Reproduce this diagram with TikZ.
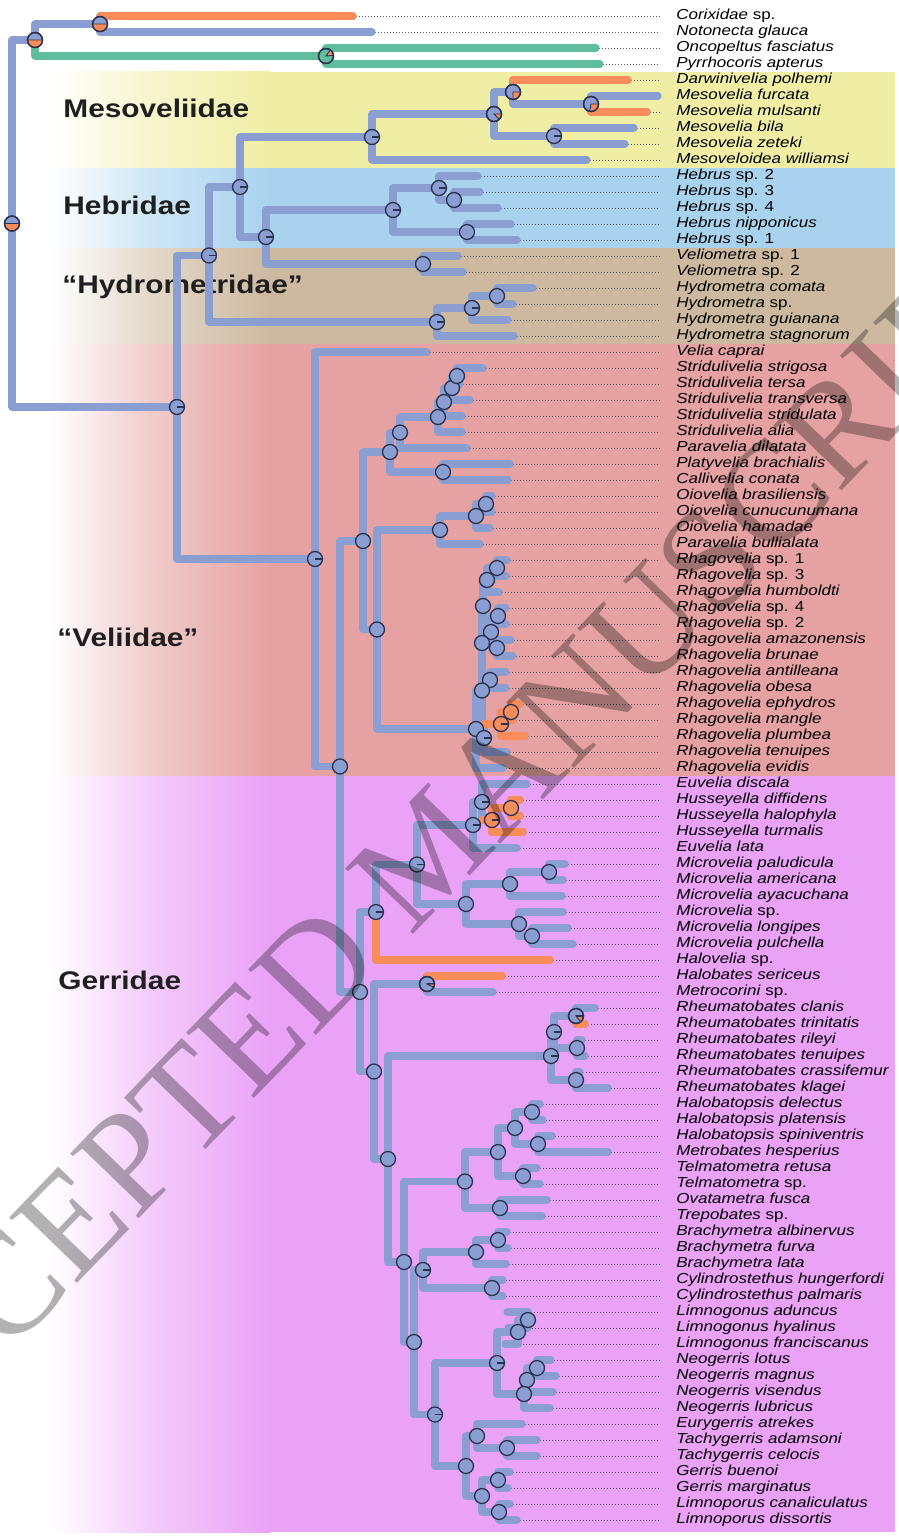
\documentclass[tikz,border=0pt]{standalone}
\usepackage{fontspec}
\newfontfamily\labfont{Liberation Sans}[FakeStretch=1.17]
\newfontfamily\wmfont{Liberation Serif}
\definecolor{bl}{HTML}{8B9ED2}
\definecolor{orn}{HTML}{FA8C5A}
\definecolor{grn}{HTML}{5FBE9B}
\definecolor{outl}{HTML}{2A3350}
\definecolor{dotc}{HTML}{555566}
\definecolor{cYel}{HTML}{F0EEA5}
\definecolor{cBlu}{HTML}{A8D2EE}
\definecolor{cTan}{HTML}{CDB9A0}
\definecolor{cPnk}{HTML}{E6A2A2}
\definecolor{cMag}{HTML}{EAA2F7}
\newcommand\plainpie[2][bl]{\node[pn,fill=#1] (c#2) at (#2) {};}
\newcommand\tickpie[2][bl]{\node[pn,fill=#1] (c#2) at (#2) {};\draw[tk] (#2) -- ++(3.75pt,0);}
\newcommand\wedgepie[4]{\filldraw[fill=#4,draw=outl,line width=0.45pt] (#1) -- ++(#2:3.75pt) arc[start angle=#2,end angle=#3,radius=3.75pt] -- cycle; \draw[pnl] (#1) circle[radius=3.75pt];}
\begin{document}
\begin{tikzpicture}[x=0.5pt,y=-0.5pt,
  br/.style={draw=bl,line width=3.6pt,line cap=round,line join=round},
  brO/.style={br,draw=orn},
  brG/.style={br,draw=grn},
  dots/.style={draw=dotc,line width=0.45pt,dash pattern=on 0.45pt off 1.05pt},
  lab/.style={anchor=west,inner sep=0pt,text height=5.4pt,text depth=1.5pt,font=\labfont\fontsize{7.25}{8}\selectfont},
  grp/.style={anchor=west,inner sep=0pt,font=\labfont\bfseries\fontsize{12.75}{14}\selectfont,text=black!88},
  pn/.style={circle,draw=outl,fill=bl,line width=0.65pt,minimum size=7.5pt,inner sep=0pt},
  pnl/.style={draw=outl,line width=0.65pt},
  tk/.style={draw=outl,line width=0.65pt},
  wm/.style={font=\wmfont\fontsize{72}{80}\selectfont,text=black,text opacity=0.3,inner sep=0pt}]
\useasboundingbox (0,0) rectangle (899,1536);
\fill[white] (0,0) rectangle (899,1536);
% bands
\foreach \ya/\yb/\cc in {72/168/cYel,168/248/cBlu,248/344/cTan,344/776/cPnk,776/1532/cMag}{
  \shade[left color=white,right color=\cc!55!white] (50,\ya) rectangle (150,\yb);
  \shade[left color=\cc!55!white,right color=\cc] (149.5,\ya) rectangle (270,\yb);
  \fill[\cc] (269.5,\ya) rectangle (895,\yb);
}
% group labels
\node[grp] (gMes) at (63,108) {Mesoveliidae};
\node[grp] (gHeb) at (63,205) {Hebridae};
\node[grp] (gHyd) at (62,287) {“Hydrometridae”};
\node[grp] (gVel) at (57,637) {“Veliidae”};
\node[grp] (gGer) at (58,980) {Gerridae};
% leaves
\foreach \i/\ex/\lab [evaluate=\i as \yy using 16*\i] in {
1/353/{\textit{Corixidae} sp.},
2/372/{\textit{Notonecta glauca}},
3/596/{\textit{Oncopeltus fasciatus}},
4/600/{\textit{Pyrrhocoris apterus}},
5/628/{\textit{Darwinivelia polhemi}},
6/658/{\textit{Mesovelia furcata}},
7/647/{\textit{Mesovelia mulsanti}},
8/634/{\textit{Mesovelia bila}},
9/625/{\textit{Mesovelia zeteki}},
10/587/{\textit{Mesoveloidea williamsi}},
11/478/{\textit{Hebrus} sp. 2},
12/480/{\textit{Hebrus} sp. 3},
13/498/{\textit{Hebrus} sp. 4},
14/511/{\textit{Hebrus nipponicus}},
15/517/{\textit{Hebrus} sp. 1},
16/458/{\textit{Veliometra} sp. 1},
17/463/{\textit{Veliometra} sp. 2},
18/533/{\textit{Hydrometra comata}},
19/513/{\textit{Hydrometra} sp.},
20/508/{\textit{Hydrometra guianana}},
21/514/{\textit{Hydrometra stagnorum}},
22/427/{\textit{Velia caprai}},
23/483/{\textit{Stridulivelia strigosa}},
24/460/{\textit{Stridulivelia tersa}},
25/470/{\textit{Stridulivelia transversa}},
26/462/{\textit{Stridulivelia stridulata}},
27/462/{\textit{Stridulivelia alia}},
28/467/{\textit{Paravelia dilatata}},
29/510/{\textit{Platyvelia brachialis}},
30/508/{\textit{Callivelia conata}},
31/492/{\textit{Oiovelia brasiliensis}},
32/492/{\textit{Oiovelia cunucunumana}},
33/490/{\textit{Oiovelia hamadae}},
34/480/{\textit{Paravelia bullialata}},
35/507/{\textit{Rhagovelia} sp. 1},
36/506/{\textit{Rhagovelia} sp. 3},
37/499/{\textit{Rhagovelia humboldti}},
38/506/{\textit{Rhagovelia} sp. 4},
39/506/{\textit{Rhagovelia} sp. 2},
40/511/{\textit{Rhagovelia amazonensis}},
41/513/{\textit{Rhagovelia brunae}},
42/506/{\textit{Rhagovelia antilleana}},
43/506/{\textit{Rhagovelia obesa}},
44/520/{\textit{Rhagovelia ephydros}},
45/513/{\textit{Rhagovelia mangle}},
46/525/{\textit{Rhagovelia plumbea}},
47/507/{\textit{Rhagovelia tenuipes}},
48/503/{\textit{Rhagovelia evidis}},
49/527/{\textit{Euvelia discala}},
50/520/{\textit{Husseyella diffidens}},
51/520/{\textit{Husseyella halophyla}},
52/523/{\textit{Husseyella turmalis}},
53/517/{\textit{Euvelia lata}},
54/565/{\textit{Microvelia paludicula}},
55/563/{\textit{Microvelia americana}},
56/562/{\textit{Microvelia ayacuchana}},
57/563/{\textit{Microvelia} sp.},
58/568/{\textit{Microvelia longipes}},
59/573/{\textit{Microvelia pulchella}},
60/550/{\textit{Halovelia} sp.},
61/502/{\textit{Halobates sericeus}},
62/493/{\textit{Metrocorini} sp.},
63/595/{\textit{Rheumatobates clanis}},
64/585/{\textit{Rheumatobates trinitatis}},
65/582/{\textit{Rheumatobates rileyi}},
66/585/{\textit{Rheumatobates tenuipes}},
67/580/{\textit{Rheumatobates crassifemur}},
68/608/{\textit{Rheumatobates klagei}},
69/540/{\textit{Halobatopsis delectus}},
70/543/{\textit{Halobatopsis platensis}},
71/552/{\textit{Halobatopsis spiniventris}},
72/608/{\textit{Metrobates hesperius}},
73/537/{\textit{Telmatometra retusa}},
74/540/{\textit{Telmatometra} sp.},
75/547/{\textit{Ovatametra fusca}},
76/542/{\textit{Trepobates} sp.},
77/507/{\textit{Brachymetra albinervus}},
78/508/{\textit{Brachymetra furva}},
79/506/{\textit{Brachymetra lata}},
80/503/{\textit{Cylindrostethus hungerfordi}},
81/503/{\textit{Cylindrostethus palmaris}},
82/507/{\textit{Limnogonus aduncus}},
83/508/{\textit{Limnogonus hyalinus}},
84/505/{\textit{Limnogonus franciscanus}},
85/551/{\textit{Neogerris lotus}},
86/556/{\textit{Neogerris magnus}},
87/553/{\textit{Neogerris visendus}},
88/550/{\textit{Neogerris lubricus}},
89/522/{\textit{Eurygerris atrekes}},
90/537/{\textit{Tachygerris adamsoni}},
91/537/{\textit{Tachygerris celocis}},
92/510/{\textit{Gerris buenoi}},
93/508/{\textit{Gerris marginatus}},
94/510/{\textit{Limnoporus canaliculatus}},
95/517/{\textit{Limnoporus dissortis}}}{
  \coordinate (t\i) at (\ex,\yy);
  \coordinate (d\i) at (660,\yy);
  \draw[dots] (t\i) -- (d\i);
  \node[lab] (L\i) at (676,\yy) {\lab};
}
% internal nodes
\coordinate (R0) at (12,223.5);
\coordinate (O) at (35,40);
\coordinate (O1) at (100,24);
\coordinate (O2) at (326,56);
\coordinate (I) at (177,407);
\coordinate (H) at (209,255.5);
\coordinate (M) at (240,187);
\coordinate (Me) at (372,137);
\coordinate (Me2) at (494,114);
\coordinate (Me3) at (513,92);
\coordinate (Me5) at (591,104);
\coordinate (Me4) at (554,136);
\coordinate (HV) at (266,237);
\coordinate (Hb) at (393,210);
\coordinate (Hb1) at (439,188);
\coordinate (Hb3) at (454,200);
\coordinate (Hb2) at (467,232);
\coordinate (Vm) at (423,264);
\coordinate (Hy) at (437,322);
\coordinate (Hy1) at (472,308);
\coordinate (Hy2) at (497,296);
\coordinate (V) at (315,559);
\coordinate (V2) at (340,766.5);
\coordinate (V3) at (363,541);
\coordinate (V4) at (390,452);
\coordinate (V4a) at (400,432.5);
\coordinate (S4) at (438,417);
\coordinate (S3) at (444,402);
\coordinate (S2) at (452,388);
\coordinate (S1) at (457,376);
\coordinate (V4b) at (443,472);
\coordinate (V5) at (377,629.5);
\coordinate (V6) at (440,530);
\coordinate (V6a) at (476,516);
\coordinate (V6b) at (486,504);
\coordinate (rA) at (497,568);
\coordinate (rB) at (487,580);
\coordinate (rC) at (498,616);
\coordinate (rE) at (497,648);
\coordinate (rD) at (491,632);
\coordinate (rG) at (483,606);
\coordinate (rH) at (490,680);
\coordinate (rF) at (482,643);
\coordinate (rJ) at (511,712);
\coordinate (rK) at (501,724);
\coordinate (rM) at (484,738);
\coordinate (rI) at (482,690.5);
\coordinate (rL) at (476,729);
\coordinate (G0) at (360,992);
\coordinate (G1) at (376,912);
\coordinate (G2) at (417,864.5);
\coordinate (Eu) at (473,825);
\coordinate (eX) at (482,802);
\coordinate (eY) at (492,820);
\coordinate (eZ) at (511,808);
\coordinate (Mi) at (466,904);
\coordinate (Mi1) at (510,884);
\coordinate (Mi1a) at (549,872);
\coordinate (Mi2) at (519,924);
\coordinate (Mi2a) at (532,936);
\coordinate (N1) at (374,1071.5);
\coordinate (Hm) at (427,984);
\coordinate (N2) at (388,1159);
\coordinate (Rb) at (551,1056);
\coordinate (Rb1) at (554,1032);
\coordinate (Rb2) at (576,1016);
\coordinate (Rb3) at (577,1048);
\coordinate (Rb4) at (576,1080);
\coordinate (N3) at (404,1262);
\coordinate (T) at (465,1181.5);
\coordinate (T1) at (498,1152);
\coordinate (T1a) at (515,1128);
\coordinate (T1b) at (532,1112);
\coordinate (T1c) at (538,1144);
\coordinate (T1d) at (523,1176);
\coordinate (T2) at (500,1208);
\coordinate (N4) at (414,1342);
\coordinate (B) at (423,1270);
\coordinate (Br) at (476,1252);
\coordinate (Br1) at (498,1240);
\coordinate (Cy) at (492,1288);
\coordinate (L) at (435,1414.5);
\coordinate (LN) at (497,1363);
\coordinate (Lg) at (518,1332);
\coordinate (Lg1) at (528,1320);
\coordinate (Ng1) at (537,1368);
\coordinate (Ng2) at (527,1380);
\coordinate (Ng3) at (524,1394);
\coordinate (Lw) at (466,1466);
\coordinate (Et) at (477,1436);
\coordinate (Ta) at (507,1448);
\coordinate (GL) at (482,1496);
\coordinate (Ge) at (498,1480);
\coordinate (Lp) at (499,1512);
% blue branches
\foreach \p/\c in {R0/O,R0/I,O/O1,O1/t1,O1/t2,I/H,I/V,H/M,H/Hy,M/Me,M/HV,Me/Me2,Me/t10,
  Me2/Me3,Me2/Me4,Me3/t5,Me3/Me5,Me5/t6,Me5/t7,Me4/t8,Me4/t9,HV/Hb,HV/Vm,Hb/Hb1,Hb/Hb2,
  Hb1/t11,Hb1/Hb3,Hb3/t12,Hb3/t13,Hb2/t14,Hb2/t15,Vm/t16,Vm/t17,Hy/Hy1,Hy/t21,Hy1/Hy2,Hy1/t20,
  Hy2/t18,Hy2/t19,V/t22,V/V2,V2/V3,V2/G0,V3/V4,V3/V5,V4/V4a,V4/V4b,V4a/S4,V4a/t28,S4/S3,S4/t27,
  S3/S2,S3/t26,S2/S1,S2/t25,S1/t23,S1/t24,V4b/t29,V4b/t30,V5/V6,V5/rL,V6/V6a,V6/t34,V6a/V6b,
  V6a/t33,V6b/t31,V6b/t32,rL/rI,rL/t48,rI/rF,rI/rM,rF/rG,rF/rH,rG/rB,rG/rD,rB/rA,rB/t37,rA/t35,
  rA/t36,rD/rC,rD/rE,rC/t38,rC/t39,rE/t40,rE/t41,rH/t42,rH/t43,rM/rK,rM/t47,rK/rJ,rK/t46,rJ/t44,
  rJ/t45,G0/G1,G0/N1,G1/G2,G1/t60,G2/Eu,G2/Mi,Eu/eX,Eu/t53,eX/t49,eX/eY,eY/eZ,eY/t52,eZ/t50,
  eZ/t51,Mi/Mi1,Mi/Mi2,Mi1/Mi1a,Mi1/t56,Mi1a/t54,Mi1a/t55,Mi2/t57,Mi2/Mi2a,Mi2a/t58,Mi2a/t59,
  N1/Hm,N1/N2,Hm/t61,Hm/t62,N2/Rb,N2/N3,Rb/Rb1,Rb/Rb4,Rb1/Rb2,Rb1/Rb3,Rb2/t63,Rb2/t64,Rb3/t65,
  Rb3/t66,Rb4/t67,Rb4/t68,N3/T,N3/N4,T/T1,T/T2,T1/T1a,T1/T1d,T1a/T1b,T1a/T1c,T1b/t69,T1b/t70,
  T1c/t71,T1c/t72,T1d/t73,T1d/t74,T2/t75,T2/t76,N4/B,N4/L,B/Br,B/Cy,Br/Br1,Br/t79,Br1/t77,
  Br1/t78,Cy/t80,Cy/t81,L/LN,L/Lw,LN/Lg,LN/Ng3,Lg/Lg1,Lg/t84,Lg1/t82,Lg1/t83,Ng3/Ng2,Ng3/t88,
  Ng2/Ng1,Ng2/t87,Ng1/t85,Ng1/t86,Lw/Et,Lw/GL,Et/t89,Et/Ta,Ta/t90,Ta/t91,GL/Ge,GL/Lp,Ge/t92,
  Ge/t93,Lp/t94,Lp/t95}{
  \draw[br] (\p) |- (\c);
}
% green branches
\draw[brG] (O) |- (O2);
\draw[brG] (O2) |- (t3);
\draw[brG] (O2) |- (t4);
% orange branches
\draw[brO] (O1 |- t1) -- (t1);
\draw[brO] (Me3 |- t5) -- (t5);
\draw[brO] (Me5 |- t7) -- (t7);
\draw[brO] (rM |- rK) -- (rK);
\draw[brO] (rK) |- (rJ);
\draw[brO] (rK) |- (t46);
\draw[brO] (rJ) |- (t44);
\draw[brO] (rJ) |- (t45);
\draw[brO] (eX |- eY) -- (eY);
\draw[brO] (eY) |- (eZ);
\draw[brO] (eY) |- (t52);
\draw[brO] (eZ) |- (t50);
\draw[brO] (eZ) |- (t51);
\draw[brO] (G1) |- (t60);
\draw[brO] (Hm |- t61) -- (t61);
\draw[brO] (Rb2 |- t64) -- (t64);
% pies
\plainpie{R0}\wedgepie{R0}{0}{-180}{orn}
\plainpie{O}\wedgepie{O}{0}{-180}{orn}
\plainpie{O1}\wedgepie{O1}{0}{-180}{orn}
\plainpie[grn]{O2}\wedgepie{O2}{5}{55}{orn}
\tickpie{I}\tickpie{H}\tickpie{M}\tickpie{HV}\tickpie{Me}
\plainpie{Me2}\wedgepie{Me2}{-45}{0}{orn}
\plainpie{Me3}\wedgepie{Me3}{-90}{0}{orn}
\plainpie{Me5}\wedgepie{Me5}{-100}{0}{orn}
\tickpie{Me4}
\tickpie{Hb}\tickpie{Hb1}\plainpie{Hb3}\plainpie{Hb2}\plainpie{Vm}
\tickpie{Hy}\tickpie{Hy1}\plainpie{Hy2}
\tickpie{V}\plainpie{V2}\plainpie{V3}\plainpie{V4}\plainpie{V4a}
\plainpie{S4}\plainpie{S3}\plainpie{S2}\plainpie{S1}\plainpie{V4b}
\plainpie{V5}\plainpie{V6}\plainpie{V6a}\plainpie{V6b}
\plainpie{rA}\plainpie{rB}\plainpie{rG}\plainpie{rC}\plainpie{rD}\plainpie{rF}\plainpie{rE}
\plainpie{rH}\plainpie{rI}\plainpie[orn]{rJ}\tickpie[orn]{rK}\plainpie{rL}\tickpie{rM}
\plainpie{G0}\tickpie{G1}\tickpie{G2}
\tickpie{Eu}\tickpie{eX}\tickpie[orn]{eY}\plainpie[orn]{eZ}
\plainpie{Mi}\plainpie{Mi1}\plainpie{Mi1a}\plainpie{Mi2}\plainpie{Mi2a}
\plainpie{N1}\tickpie{Hm}\wedgepie{Hm}{-25}{0}{orn}
\plainpie{N2}\tickpie{Rb}\tickpie{Rb1}\tickpie{Rb2}\wedgepie{Rb2}{-50}{-8}{orn}
\plainpie{Rb3}\plainpie{Rb4}
\plainpie{N3}\plainpie{T}\plainpie{T1}\plainpie{T1a}\plainpie{T1b}\plainpie{T1c}\plainpie{T1d}\plainpie{T2}
\plainpie{N4}\tickpie{B}\plainpie{Br}\plainpie{Br1}\plainpie{Cy}
\tickpie{L}\tickpie{LN}\plainpie{Lg}\plainpie{Lg1}\plainpie{Ng1}\plainpie{Ng2}\plainpie{Ng3}
\plainpie{Lw}\plainpie{Et}\plainpie{Ta}\plainpie{GL}\plainpie{Ge}\plainpie{Lp}
% watermark
\node[wm,rotate=46] (wmark) at (428,852) {ACCEPTED MANUSCRIPT};
\end{tikzpicture}
\end{document}
